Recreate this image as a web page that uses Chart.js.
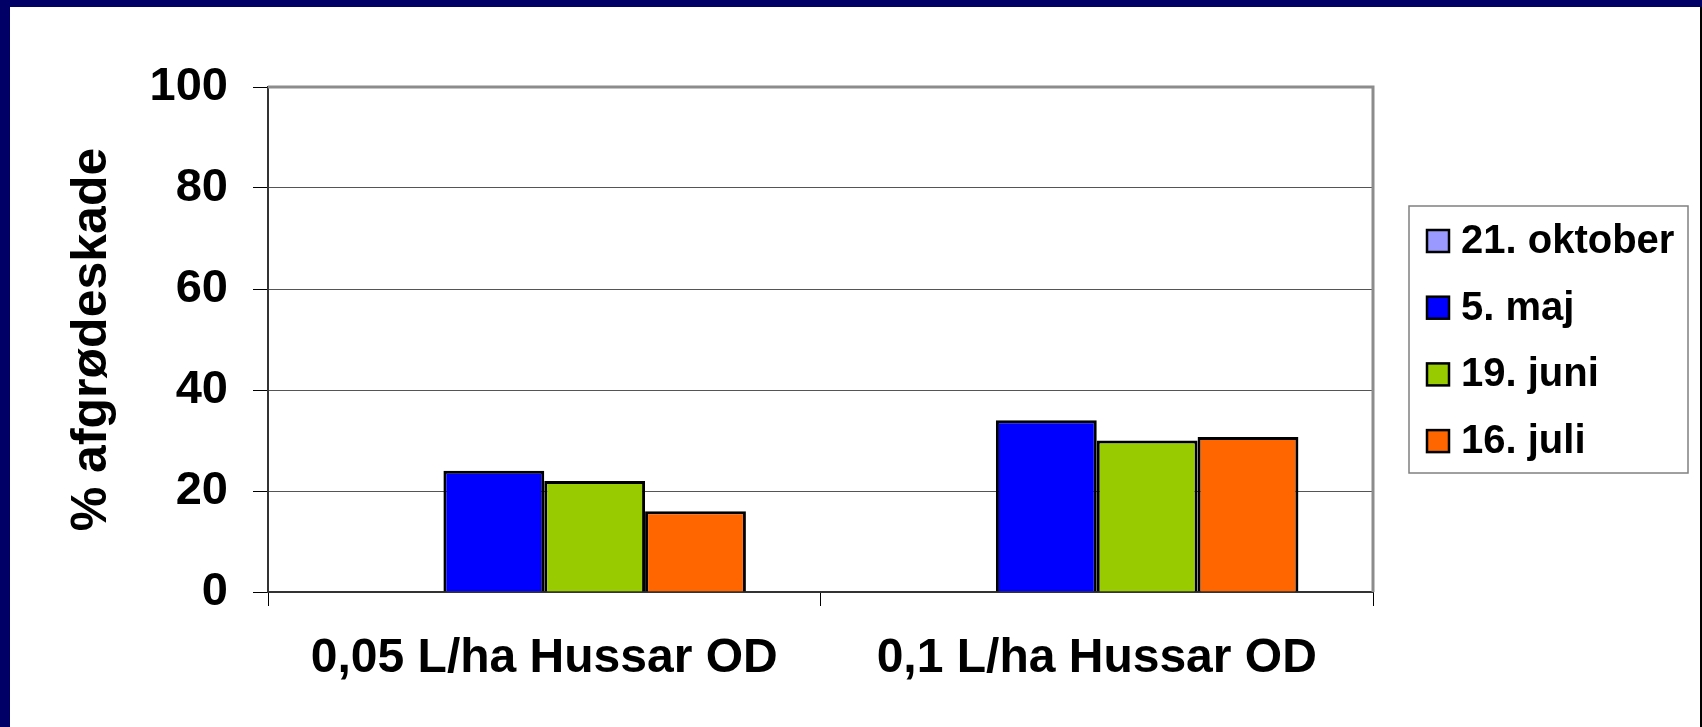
<!DOCTYPE html>
<html>
<head>
<meta charset="utf-8">
<script src="https://cdn.jsdelivr.net/npm/chart.js@4"></script>
<style>
	html, body { margin: 0; padding: 0; background: #000066; }
	canvas { display: block; }
</style>
</head>
<body>
<canvas id="skadeChart" width="1702" height="727"></canvas>
<script>
const categories = ['0,05 L/ha Hussar OD', '0,1 L/ha Hussar OD'];
const seriesNames = ['21. oktober', '5. maj', '19. juni', '16. juli'];
const oktober = [0, 0];
const maj = [24, 34];
const juni = [22, 30];
const juli = [16, 30.7];
const yTicks = [0, 20, 40, 60, 80, 100];

const seriesColors = ['#9999ff', '#0000ff', '#99cc00', '#ff6600'];
const FONT = "'Liberation Sans', Arial, sans-serif";

// slide frame + plot border + boxed legend
const framePlugin = {
	id: 'frame',
	beforeDraw(chart) {
		const ctx = chart.ctx;
		ctx.save();
		ctx.fillStyle = '#000066';
		ctx.fillRect(0, 0, chart.width, chart.height);
		ctx.fillStyle = '#ffffff';
		ctx.fillRect(10, 7, chart.width - 12, chart.height - 7);
		ctx.fillStyle = '#000000';
		ctx.fillRect(chart.width - 2, 7, 2, chart.height - 7);
		ctx.restore();
	},
	afterDraw(chart) {
		const ctx = chart.ctx;
		const a = chart.chartArea;
		ctx.save();
		ctx.strokeStyle = '#8c8c8c';
		ctx.lineWidth = 3;
		ctx.beginPath();
		ctx.moveTo(a.left, a.top);
		ctx.lineTo(a.right, a.top);
		ctx.lineTo(a.right, a.bottom);
		ctx.stroke();

		// legend
		const box = { x: 1409, y: 206, w: 279, h: 267 };
		ctx.strokeStyle = '#808080';
		ctx.lineWidth = 1.5;
		ctx.strokeRect(box.x, box.y, box.w, box.h);
		ctx.font = 'bold 40px ' + FONT;
		ctx.textBaseline = 'middle';
		ctx.textAlign = 'left';
		chart.data.datasets.forEach((ds, i) => {
			const cy = 241 + i * 66.7;
			ctx.fillStyle = ds.backgroundColor;
			ctx.fillRect(1427, cy - 11, 22, 22);
			ctx.strokeStyle = '#000';
			ctx.lineWidth = 2.5;
			ctx.strokeRect(1427, cy - 11, 22, 22);
			ctx.fillStyle = '#000';
			ctx.fillText(ds.label, 1461, cy + 1);
		});
		ctx.restore();
	},
};

const seriesValues = [oktober, maj, juni, juli];

new Chart(document.getElementById('skadeChart'), {
	type: 'bar',
	data: {
		labels: categories,
		datasets: seriesNames.map((name, i) => ({
			label: name,
			data: seriesValues[i],
			backgroundColor: seriesColors[i],
			borderColor: '#000000',
			borderWidth: 3,
			categoryPercentage: 0.73,
			barPercentage: 1.0,
		})),
	},
	options: {
		responsive: false,
		animation: false,
		layout: { padding: { left: 0, top: 87, right: 329, bottom: 0 } },
		plugins: {
			legend: { display: false },
			tooltip: { enabled: false },
		},
		scales: {
			x: {
				afterFit: (s) => { s.height = 135; },
				grid: {
					drawOnChartArea: false,
					drawTicks: true,
					tickLength: 14,
					color: '#000000',
					offset: true,
				},
				border: { color: '#333333', width: 2 },
				ticks: {
					padding: 24,
					color: '#000000',
					font: { size: 48, weight: 'bold', family: FONT },
				},
			},
			y: {
				min: yTicks[0],
				max: yTicks[yTicks.length - 1],
				afterFit: (s) => { s.width = 268; },
				afterBuildTicks: (s) => { s.ticks = yTicks.map((v) => ({ value: v })); },
				grid: {
					color: '#555555',
					lineWidth: 1,
					tickLength: 15,
					tickColor: '#000000',
				},
				border: { color: '#333333', width: 2 },
				ticks: {
					padding: 25,
					color: '#000000',
					font: { size: 47, weight: 'bold', family: FONT },
				},
				title: {
					display: true,
					text: '% afgrødeskade',
					color: '#000000',
					padding: { top: 62 },
					font: { size: 50, weight: 'bold', family: FONT },
				},
			},
		},
	},
	plugins: [framePlugin],
});
</script>
</body>
</html>
